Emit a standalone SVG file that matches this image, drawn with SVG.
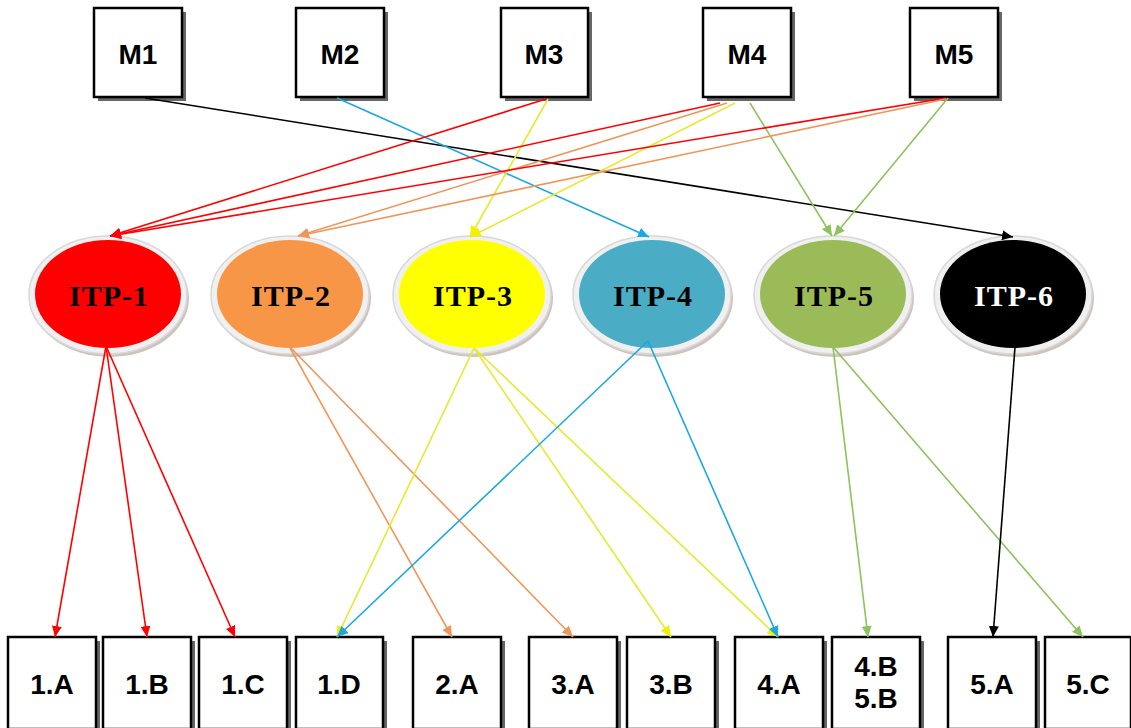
<svg xmlns="http://www.w3.org/2000/svg" width="1131" height="728" viewBox="0 0 1131 728">
<style>
.box{fill:#fff;stroke:#000;stroke-width:2.5}
.sh{fill:#333;opacity:0.75}
.mt{font-family:"Liberation Sans",Arial,sans-serif;font-weight:bold;font-size:28px;text-anchor:middle;fill:#000}
.it{font-family:"Liberation Serif","Times New Roman",serif;font-weight:bold;font-size:30px;letter-spacing:1px;text-anchor:middle;fill:#000}
.ring{fill:#f0f0f0;stroke:#d8d8d8;stroke-width:1.5}
.esh{fill:#b9aaa2;opacity:0.7}
.e{fill:none;stroke-width:1.6}
</style>
<defs>
<marker id="aR" markerUnits="userSpaceOnUse" markerWidth="12" markerHeight="10" refX="11" refY="5" orient="auto"><path d="M0,0 L11,5 L0,10 z" fill="#ff0000"/></marker>
<marker id="aO" markerUnits="userSpaceOnUse" markerWidth="12" markerHeight="10" refX="11" refY="5" orient="auto"><path d="M0,0 L11,5 L0,10 z" fill="#f0965a"/></marker>
<marker id="aY" markerUnits="userSpaceOnUse" markerWidth="12" markerHeight="10" refX="11" refY="5" orient="auto"><path d="M0,0 L11,5 L0,10 z" fill="#f0f000"/></marker>
<marker id="aB" markerUnits="userSpaceOnUse" markerWidth="12" markerHeight="10" refX="11" refY="5" orient="auto"><path d="M0,0 L11,5 L0,10 z" fill="#1aa8e0"/></marker>
<marker id="aG" markerUnits="userSpaceOnUse" markerWidth="12" markerHeight="10" refX="11" refY="5" orient="auto"><path d="M0,0 L11,5 L0,10 z" fill="#8cc35a"/></marker>
<marker id="aK" markerUnits="userSpaceOnUse" markerWidth="12" markerHeight="10" refX="11" refY="5" orient="auto"><path d="M0,0 L11,5 L0,10 z" fill="#000"/></marker>
</defs>

<g id="M1"><rect class="sh" x="98" y="12" width="88" height="89"/><rect class="box" x="94" y="8" width="88" height="89"/><text class="mt" x="138" y="64">M1</text></g>
<g id="M2"><rect class="sh" x="300" y="12" width="88" height="89"/><rect class="box" x="296" y="8" width="88" height="89"/><text class="mt" x="340" y="64">M2</text></g>
<g id="M3"><rect class="sh" x="505" y="12" width="87" height="89"/><rect class="box" x="501" y="8" width="87" height="89"/><text class="mt" x="544" y="64">M3</text></g>
<g id="M4"><rect class="sh" x="707" y="12" width="88" height="89"/><rect class="box" x="703" y="8" width="88" height="89"/><text class="mt" x="747" y="64">M4</text></g>
<g id="M5"><rect class="sh" x="914" y="12" width="88" height="89"/><rect class="box" x="910" y="8" width="88" height="89"/><text class="mt" x="954" y="64">M5</text></g>

<g id="ITP-1"><ellipse class="esh" cx="110" cy="298" rx="79" ry="59"/><ellipse class="ring" cx="108" cy="295" rx="79" ry="59"/><ellipse cx="108" cy="294" rx="73" ry="54" fill="#ff0000"/><text class="it" x="109" y="306">ITP-1</text></g>
<g id="ITP-2"><ellipse class="esh" cx="292" cy="298" rx="79" ry="59"/><ellipse class="ring" cx="290" cy="295" rx="79" ry="59"/><ellipse cx="290" cy="294" rx="73" ry="54" fill="#f79646"/><text class="it" x="291" y="306">ITP-2</text></g>
<g id="ITP-3"><ellipse class="esh" cx="474" cy="298" rx="79" ry="59"/><ellipse class="ring" cx="472" cy="295" rx="79" ry="59"/><ellipse cx="472" cy="294" rx="73" ry="54" fill="#ffff00"/><text class="it" x="473" y="306">ITP-3</text></g>
<g id="ITP-4"><ellipse class="esh" cx="654" cy="298" rx="79" ry="59"/><ellipse class="ring" cx="652" cy="295" rx="79" ry="59"/><ellipse cx="652" cy="294" rx="73" ry="54" fill="#4bacc6"/><text class="it" x="653" y="306">ITP-4</text></g>
<g id="ITP-5"><ellipse class="esh" cx="835" cy="298" rx="79" ry="59"/><ellipse class="ring" cx="833" cy="295" rx="79" ry="59"/><ellipse cx="833" cy="294" rx="73" ry="54" fill="#9bbb59"/><text class="it" x="834" y="306">ITP-5</text></g>
<g id="ITP-6"><ellipse class="esh" cx="1015" cy="298" rx="79" ry="59"/><ellipse class="ring" cx="1013" cy="295" rx="79" ry="59"/><ellipse cx="1013" cy="294" rx="73" ry="54" fill="#000"/><text class="it" x="1014" y="306" style="fill:#fff">ITP-6</text></g>

<g id="B1A"><rect class="sh" x="12" y="641" width="88" height="92"/><rect class="box" x="8" y="637" width="88" height="92"/><text class="mt" x="52" y="694">1.A</text></g>
<g id="B1B"><rect class="sh" x="107" y="641" width="88" height="92"/><rect class="box" x="103" y="637" width="88" height="92"/><text class="mt" x="147" y="694">1.B</text></g>
<g id="B1C"><rect class="sh" x="203" y="641" width="88" height="92"/><rect class="box" x="199" y="637" width="88" height="92"/><text class="mt" x="243" y="694">1.C</text></g>
<g id="B1D"><rect class="sh" x="300" y="641" width="87" height="92"/><rect class="box" x="296" y="637" width="87" height="92"/><text class="mt" x="339" y="694">1.D</text></g>
<g id="B2A"><rect class="sh" x="417" y="641" width="88" height="92"/><rect class="box" x="413" y="637" width="88" height="92"/><text class="mt" x="457" y="694">2.A</text></g>
<g id="B3A"><rect class="sh" x="533" y="641" width="88" height="92"/><rect class="box" x="529" y="637" width="88" height="92"/><text class="mt" x="573" y="694">3.A</text></g>
<g id="B3B"><rect class="sh" x="631" y="641" width="88" height="92"/><rect class="box" x="627" y="637" width="88" height="92"/><text class="mt" x="671" y="694">3.B</text></g>
<g id="B4A"><rect class="sh" x="739" y="641" width="88" height="92"/><rect class="box" x="735" y="637" width="88" height="92"/><text class="mt" x="779" y="694">4.A</text></g>
<g id="B4B5B"><rect class="sh" x="836" y="641" width="88" height="92"/><rect class="box" x="832" y="637" width="88" height="92"/><text class="mt" x="876" y="676">4.B</text><text class="mt" x="876" y="708">5.B</text></g>
<g id="B5A"><rect class="sh" x="952" y="641" width="88" height="92"/><rect class="box" x="948" y="637" width="88" height="92"/><text class="mt" x="992" y="694">5.A</text></g>
<g id="B5C"><rect class="sh" x="1049" y="641" width="88" height="92"/><rect class="box" x="1045" y="637" width="86" height="92"/><text class="mt" x="1088" y="694">5.C</text></g>

<g id="connectors">
<line class="e" x1="145" y1="98" x2="1013" y2="237" stroke="#000" marker-end="url(#aK)"/>
<line class="e" x1="337" y1="98" x2="649" y2="237" stroke="#1aa8e0" marker-end="url(#aB)"/>
<line class="e" x1="546" y1="99" x2="110" y2="236" stroke="#ff0000" marker-end="url(#aR)"/>
<line class="e" x1="548" y1="99" x2="470" y2="237" stroke="#e8e830" marker-end="url(#aY)"/>
<line class="e" x1="720" y1="103" x2="110" y2="236" stroke="#ff0000" marker-end="url(#aR)"/>
<line class="e" x1="727" y1="103" x2="298" y2="236" stroke="#f0965a" marker-end="url(#aO)"/>
<line class="e" x1="735" y1="103" x2="470" y2="237" stroke="#e8e830" marker-end="url(#aY)"/>
<line class="e" x1="750" y1="103" x2="832" y2="236" stroke="#8cc35a" marker-end="url(#aG)"/>
<line class="e" x1="946" y1="98" x2="110" y2="236" stroke="#ff0000" marker-end="url(#aR)"/>
<line class="e" x1="946" y1="99" x2="298" y2="236" stroke="#f0965a" marker-end="url(#aO)"/>
<line class="e" x1="948" y1="98" x2="834" y2="236" stroke="#8cc35a" marker-end="url(#aG)"/>

<line class="e" x1="106" y1="346" x2="55" y2="637" stroke="#ff0000" marker-end="url(#aR)"/>
<line class="e" x1="106" y1="346" x2="147" y2="637" stroke="#ff0000" marker-end="url(#aR)"/>
<line class="e" x1="106" y1="346" x2="235" y2="637" stroke="#ff0000" marker-end="url(#aR)"/>
<line class="e" x1="289" y1="346" x2="452" y2="637" stroke="#f0965a" marker-end="url(#aO)"/>
<line class="e" x1="289" y1="346" x2="573" y2="637" stroke="#f0965a" marker-end="url(#aO)"/>
<line class="e" x1="474" y1="348" x2="337" y2="637" stroke="#e8e830" marker-end="url(#aY)"/>
<line class="e" x1="474" y1="348" x2="671" y2="637" stroke="#e8e830" marker-end="url(#aY)"/>
<line class="e" x1="474" y1="348" x2="778" y2="637" stroke="#e8e830" marker-end="url(#aY)"/>
<line class="e" x1="648" y1="341" x2="337" y2="637" stroke="#1aa8e0" marker-end="url(#aB)"/>
<line class="e" x1="648" y1="341" x2="778" y2="637" stroke="#1aa8e0" marker-end="url(#aB)"/>
<line class="e" x1="833" y1="347" x2="868" y2="637" stroke="#8cc35a" marker-end="url(#aG)"/>
<line class="e" x1="833" y1="347" x2="1083" y2="637" stroke="#8cc35a" marker-end="url(#aG)"/>
<line class="e" x1="1015" y1="347" x2="993" y2="637" stroke="#000" marker-end="url(#aK)"/>
</g>
</svg>
